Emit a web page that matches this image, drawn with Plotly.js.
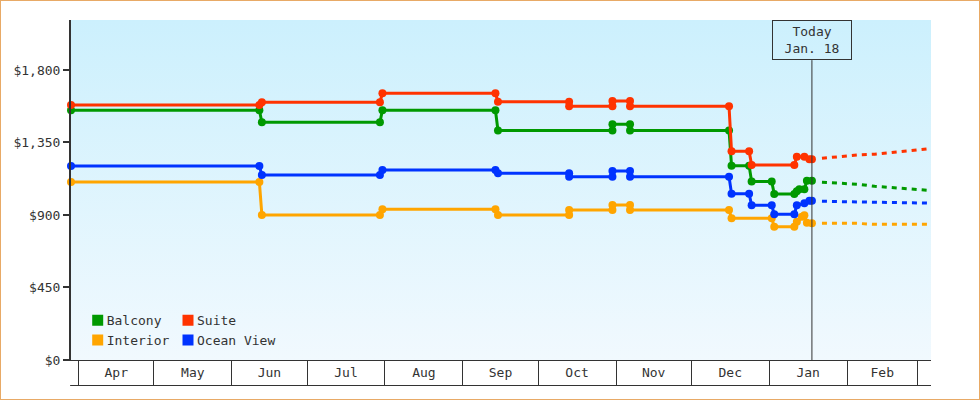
<!DOCTYPE html>
<html>
<head>
<meta charset="utf-8">
<script src="https://cdn.plot.ly/plotly-3.0.1.min.js"></script>
<style>
  html, body { margin: 0; padding: 0; background: #ffffff; }
  #wrap { position: relative; width: 980px; height: 400px; overflow: hidden; }
  #bg { position: absolute; left: 71px; top: 20px; width: 860px; height: 340px;
        background: linear-gradient(to bottom, #ccf0fd 0%, #f1f9fe 100%); }
  #chart { position: absolute; left: 0; top: 0; width: 980px; height: 400px; }
  #frame { position: absolute; left: 0; top: 0; width: 980px; height: 400px; box-sizing: border-box;
           border: 1px solid #e8aa66; pointer-events: none; }
  #chart .infolayer g.layers { transform: translateX(11px); }
</style>
</head>
<body>
<div id="wrap">
  <div id="bg"></div>
  <div id="chart"></div>
  <div id="frame"></div>
</div>
<script>
// ---------- data ----------
const seriesNames = ['Balcony', 'Suite', 'Interior', 'Ocean View'];
const seriesColors = ['#009900', '#ff3300', '#ffa500', '#0033ff'];

const balconyDates = ['2024-03-29','2024-06-12','2024-06-13','2024-07-30','2024-07-31','2024-09-14','2024-09-15',
  '2024-10-30 14:00','2024-10-30 14:00','2024-11-06 14:00','2024-11-06 14:00','2024-12-16','2024-12-17',
  '2024-12-24','2024-12-25','2025-01-02','2025-01-03','2025-01-11','2025-01-12','2025-01-13','2025-01-15',
  '2025-01-16','2025-01-18'];
const balconyPrices = [1550,1550,1475,1475,1550,1550,1425,1425,1463,1463,1425,1425,1206,1206,1107,1107,
  1030,1030,1048,1060,1060,1112,1112];

const suiteDates = ['2024-03-29','2024-06-12','2024-06-13','2024-07-30','2024-07-31','2024-09-14','2024-09-15',
  '2024-10-13 08:00','2024-10-13 08:00','2024-10-30 14:00','2024-10-30 14:00','2024-11-06 14:00','2024-11-06 14:00',
  '2024-12-16','2024-12-17','2024-12-24','2024-12-25','2025-01-11','2025-01-12','2025-01-15','2025-01-17','2025-01-18'];
const suitePrices = [1582,1582,1600,1600,1655,1655,1603,1603,1574,1574,1608,1608,1574,1574,1295,1295,1210,
  1210,1262,1262,1246,1246];

const interiorDates = ['2024-03-29','2024-06-12','2024-06-13','2024-07-30','2024-07-31','2024-09-14','2024-09-15',
  '2024-10-13 08:00','2024-10-13 08:00','2024-10-30 14:00','2024-10-30 14:00','2024-11-06 14:00','2024-11-06 14:00',
  '2024-12-16','2024-12-17','2025-01-02','2025-01-03','2025-01-11','2025-01-12','2025-01-14','2025-01-15',
  '2025-01-16','2025-01-18'];
const interiorPrices = [1105,1105,900,900,935,935,900,900,931,931,962,962,931,931,880,880,827,827,858,889,898,852,848];

const oceanDates = ['2024-03-29','2024-06-12','2024-06-13','2024-07-30','2024-07-31','2024-09-14','2024-09-15',
  '2024-10-13 08:00','2024-10-13 08:00','2024-10-30 14:00','2024-10-30 14:00','2024-11-06 14:00','2024-11-06 14:00',
  '2024-12-16','2024-12-17','2024-12-24','2024-12-25','2025-01-02','2025-01-03','2025-01-11','2025-01-12',
  '2025-01-15','2025-01-17','2025-01-18'];
const oceanPrices = [1204,1204,1148,1148,1179,1179,1159,1159,1138,1138,1173,1173,1138,1138,1032,1032,960,960,
  904,904,960,973,988,988];

// forecast (dashed)
const forecastDates = ['2025-01-22','2025-01-29','2025-02-05','2025-02-12','2025-02-19','2025-02-26','2025-03-05','2025-03-07'];
const balconyForecast = [1103,1097,1091,1078,1069,1061,1053,1051];
const suiteForecast = [1252,1262,1272,1277,1289,1297,1310,1314];
const interiorForecast = [848,848,848,842,842,842,842,842];
const oceanForecast = [985,983,979,979,979,973,973,973];

const yTicks = [0, 450, 900, 1350, 1800];
const yTickLabels = ['$0', '$450', '$900', '$1,350', '$1,800'];
const today = '2025-01-18';
const todayLabel = 'Today<br>Jan. 18';
const xRange = ['2024-03-29', '2025-03-06 10:00'];
const yRange = [0, 2110];

// ---------- traces ----------
const hist = [
  [balconyDates, balconyPrices],
  [suiteDates, suitePrices],
  [interiorDates, interiorPrices],
  [oceanDates, oceanPrices]
];
const fc = [balconyForecast, suiteForecast, interiorForecast, oceanForecast];

const traces = [];
hist.forEach((h, i) => {
  traces.push({
    type: 'scatter', mode: 'lines+markers', x: h[0], y: h[1], name: seriesNames[i],
    line: { color: seriesColors[i], width: 3 },
    marker: { color: seriesColors[i], size: 8, symbol: 'circle' },
    showlegend: false, cliponaxis: false, hoverinfo: 'skip'
  });
});
fc.forEach((f, i) => {
  traces.push({
    type: 'scatter', mode: 'lines', x: forecastDates, y: f, name: seriesNames[i] + ' forecast',
    line: { color: seriesColors[i], width: 3, dash: '5px,5px' },
    showlegend: false, hoverinfo: 'skip'
  });
});
// legend entries (square swatches) : column 1 Balcony/Interior, column 2 Suite/Ocean View
[0, 2, 1, 3].forEach((i) => {
  traces.push({
    type: 'scatter', mode: 'markers', x: [null], y: [null], name: seriesNames[i],
    marker: { color: seriesColors[i], size: 11, symbol: 'square' },
    legend: (i === 0 || i === 2) ? 'legend' : 'legend2', showlegend: true
  });
});

const legendCommon = {
  orientation: 'v', xanchor: 'left', yanchor: 'top', bgcolor: 'rgba(0,0,0,0)', borderwidth: 0,
  font: { family: 'DejaVu Sans Mono, monospace', size: 13, color: '#333' }, tracegroupgap: 0
};

const layout = {
  width: 980, height: 400,
  margin: { l: 71, r: 49, t: 20, b: 40, pad: 0 },
  paper_bgcolor: 'rgba(0,0,0,0)', plot_bgcolor: 'rgba(0,0,0,0)',
  font: { family: 'DejaVu Sans Mono, monospace', size: 13, color: '#333' },
  showlegend: true,
  legend: Object.assign({}, legendCommon, { x: -0.005, y: 0.161 }),
  legend2: Object.assign({}, legendCommon, { x: 0.1, y: 0.161 }),
  xaxis: {
    type: 'date', range: xRange, tick0: '2024-04-01', dtick: 'M1', tickformat: '%b',
    ticklabelmode: 'period', ticks: 'outside', ticklen: 25, tickwidth: 1, tickcolor: '#333',
    ticklabelstandoff: -25,
    showline: true, linecolor: '#333', linewidth: 1, showgrid: false, zeroline: false, fixedrange: true
  },
  yaxis: {
    range: yRange, tickmode: 'array', tickvals: yTicks, ticktext: yTickLabels,
    ticks: 'outside', ticklen: 6, tickwidth: 2, tickcolor: '#333',
    showline: true, linecolor: '#333', linewidth: 2, showgrid: false, zeroline: false, fixedrange: true
  },
  shapes: [
    { type: 'line', xref: 'x', yref: 'paper', x0: today, x1: today, y0: 0, y1: 0.882,
      line: { color: '#333', width: 1 }, layer: 'above' },
    { type: 'line', xref: 'paper', yref: 'paper', x0: -0.001, x1: 1, y0: -0.075, y1: -0.075,
      line: { color: '#333', width: 1 } }
  ],
  annotations: [
    { xref: 'x', yref: 'paper', x: today, y: 1, xanchor: 'center', yanchor: 'top',
      text: todayLabel, showarrow: false, bordercolor: '#333', borderwidth: 1, borderpad: 3,
      width: 72, height: 32, bgcolor: 'rgba(0,0,0,0)',
      font: { family: 'DejaVu Sans Mono, monospace', size: 13, color: '#333' } }
  ]
};

Plotly.newPlot('chart', traces, layout, { staticPlot: true, displayModeBar: false });
</script>
</body>
</html>
